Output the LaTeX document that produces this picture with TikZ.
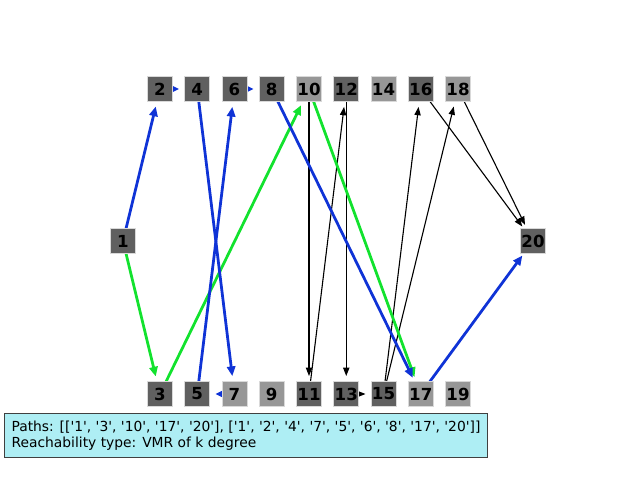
\documentclass[tikz,border=0pt]{standalone}
\usepackage{fontspec}
\setmainfont{DejaVu Sans}
\newfontfamily\infofont{DejaVu Sans}
\usetikzlibrary{arrows.meta}
\usetikzlibrary{backgrounds}

\definecolor{darkbox}{HTML}{606060}
\definecolor{lightbox}{HTML}{979797}
\definecolor{pathblue}{HTML}{0F33D6}
\definecolor{pathgreen}{HTML}{12E22E}
\definecolor{infobg}{HTML}{AEEEF4}

\tikzset{
  vertex/.style={minimum size=0.25in, inner sep=0pt, font=\fontsize{12}{14}\selectfont\bfseries, draw=white!85!black, line width=0.4pt},
  darkv/.style={vertex, fill=darkbox},
  lightv/.style={vertex, fill=lightbox},
  link/.style={line width=0.8pt, shorten >=0.18in, -{Triangle[length=6pt,width=4.5pt]}},
  bluepath/.style={link, pathblue, line width=2pt, -{Triangle[length=7pt,width=6pt]}},
  greenpath/.style={link, pathgreen, line width=2pt, -{Triangle[length=7pt,width=6pt]}}
}

\begin{document}
\begin{tikzpicture}[x=0.01in, y=-0.01in]
                \useasboundingbox (0,0) rectangle (640,480);

                % Source and sink
                \node[darkv] (n1) at (123,241) {1};
                \node[darkv] (n20) at (533,241) {20};

                % Top row
                \node[darkv] (n2) at (160,89) {2};
                \node[darkv] (n4) at (197.25,89) {4};
                \node[darkv] (n6) at (234.5,89) {6};
                \node[darkv] (n8) at (271.75,89) {8};
                \node[lightv] (n10) at (309,89) {10};
                \node[darkv] (n12) at (346.25,89) {12};
                \node[lightv] (n14) at (383.5,89) {14};
                \node[darkv] (n16) at (420.75,89) {16};
                \node[lightv] (n18) at (458,89) {18};

                % Bottom row
                \node[darkv] (n3) at (160,394) {3};
                \node[darkv] (n5) at (197.25,394) {5};
                \node[lightv] (n7) at (234.5,394) {7};
                \node[lightv] (n9) at (271.75,394) {9};
                \node[darkv] (n11) at (309,394) {11};
                \node[darkv] (n13) at (346.25,394) {13};
                \node[darkv] (n15) at (383.5,394) {15};
                \node[lightv] (n17) at (420.75,394) {17};
                \node[lightv] (n19) at (458,394) {19};

                \begin{scope}[on background layer]
                % Other edges
                \draw[link] (n10.center) -- (n11.center);
                \draw[link] (n11.center) -- (n12.center);
                \draw[link] (n12.center) -- (n13.center);
                \draw[link] (n13.center) -- (n15.center);
                \draw[link] (n15.center) -- (n16.center);
                \draw[link] (n15.center) -- (n18.center);
                \draw[link] (n16.center) -- (n20.center);
                \draw[link] (n18.center) -- (n20.center);

                % First path
                \draw[greenpath] (n1.center) -- (n3.center);
                \draw[greenpath] (n3.center) -- (n10.center);
                \draw[greenpath] (n10.center) -- (n17.center);

                % Second path
                \draw[bluepath] (n1.center) -- (n2.center);
                \draw[bluepath] (n2.center) -- (n4.center);
                \draw[bluepath] (n4.center) -- (n7.center);
                \draw[bluepath] (n7.center) -- (n5.center);
                \draw[bluepath] (n5.center) -- (n6.center);
                \draw[bluepath] (n6.center) -- (n8.center);
                \draw[bluepath] (n8.center) -- (n17.center);
                \draw[bluepath] (n17.center) -- (n20.center);
                \end{scope}

                % Legend
                \node[draw=black!75, line width=0.8pt, fill=infobg, anchor=north west, minimum height=0.44in, inner xsep=0.07in, inner ysep=0pt, align=left, font=\infofont\fontsize{10}{11.5}\selectfont] (info) at (4,413)
                  {Paths: [['1', '3', '10', '17', '20'], ['1', '2', '4', '7', '5', '6', '8', '17', '20']]\\Reachability type: VMR of k degree};
\end{tikzpicture}
\end{document}
